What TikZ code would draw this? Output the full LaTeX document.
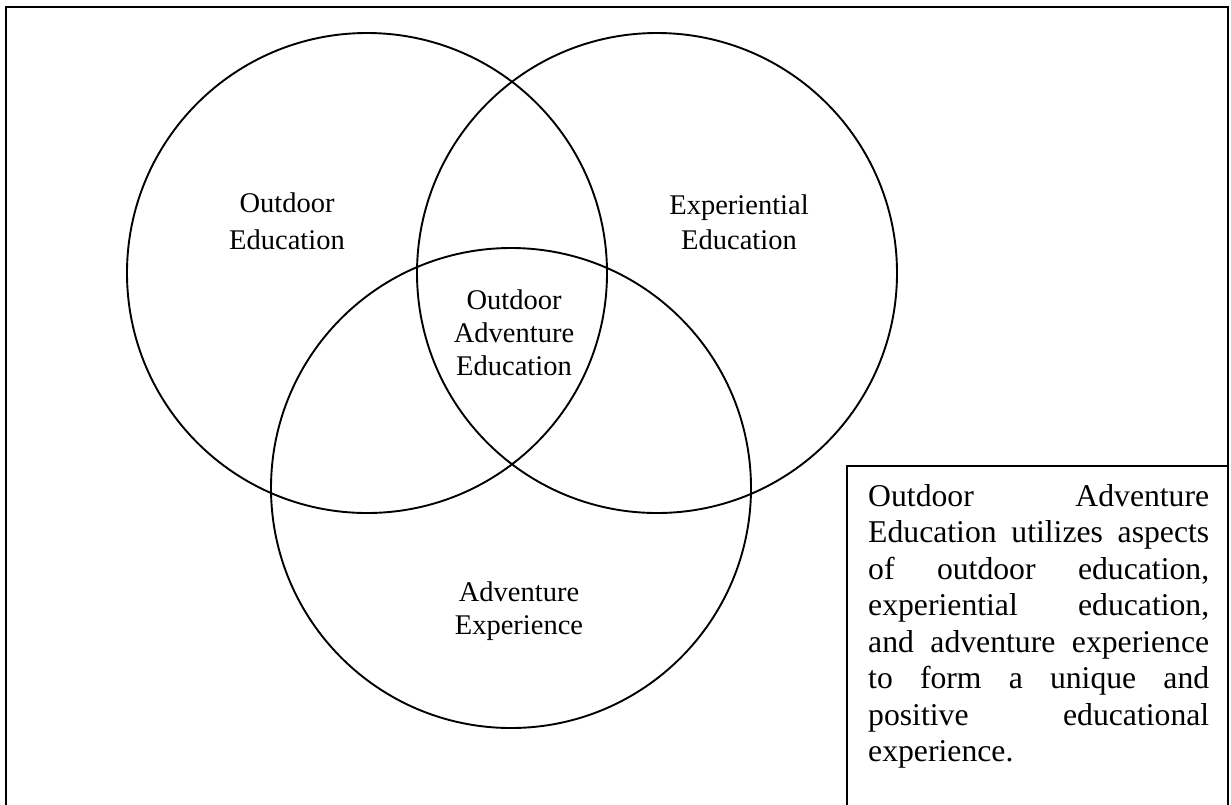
\documentclass[tikz,border=0pt]{standalone}
\usepackage{fontspec}
\setmainfont{Liberation Serif}
% one fully justified line of the note
\newcommand{\jline}[1]{\hbox to \linewidth{#1}}
\begin{document}
\begin{tikzpicture}[x=1pt,y=-1pt,
  ring/.style={draw=black,line width=1.9pt,circle,minimum size=480pt,inner sep=0pt},
  lbl/.style={align=center,font=\fontsize{28.5}{33}\selectfont,inner sep=0pt},
  edge box/.style={draw=black,line width=2.4pt,fill=none},
  notefont/.style={font=\fontsize{31.7}{36.5}\selectfont}]
\useasboundingbox (0,0) rectangle (1231,804);
\clip (0,0) rectangle (1231,804);
% outer frame (runs off the bottom of the page)
\node[edge box,anchor=north west,minimum width=1222pt,minimum height=840pt,inner sep=0pt] (frame) at (5,6) {};
% the three overlapping circles
\node[ring] (outdoor) at (367,273) {};
\node[ring] (experiential) at (657,273) {};
\node[ring] (adventure) at (511,488) {};
% circle labels
\node[lbl,font=\fontsize{28.5}{37}\selectfont] (outdoorT) at (287,221) {Outdoor\\Education};
\node[lbl,font=\fontsize{28.5}{35}\selectfont] (experientialT) at (739,222) {Experiential\\Education};
\node[lbl] (centreT) at (514,333) {Outdoor\\Adventure\\Education};
\node[lbl] (adventureT) at (519,611) {Adventure\\Experience};
% explanatory note box
\node[edge box,anchor=north west,minimum width=381pt,minimum height=400pt,inner sep=0pt] (note) at (846,465) {};
\node[notefont,anchor=north west,inner sep=0pt,text width=341pt] (noteT) at (868,484) {%
\jline{Outdoor\hfill Adventure}
\jline{Education\hfill utilizes\hfill aspects}
\jline{of\hfill outdoor\hfill education,}
\jline{experiential\hfill education,}
\jline{and\hfill adventure\hfill experience}
\jline{to\hfill form\hfill a\hfill unique\hfill and}
\jline{positive\hfill educational}
\jline{experience.\hfill}};
\end{tikzpicture}
\end{document}
